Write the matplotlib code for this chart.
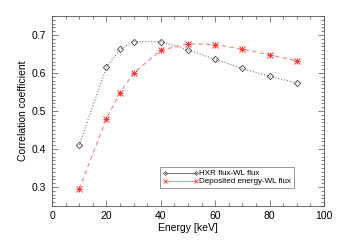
import matplotlib
matplotlib.use("Agg")
import matplotlib.pyplot as plt
from matplotlib.ticker import MultipleLocator
from matplotlib.legend_handler import HandlerLine2D
from matplotlib.lines import Line2D

energy = [10, 20, 25, 30, 40, 50, 60, 70, 80, 90]
hxr_wl = [0.410, 0.615, 0.662, 0.683, 0.682, 0.661, 0.636, 0.612, 0.591, 0.574]
dep_wl = [0.295, 0.480, 0.548, 0.600, 0.660, 0.677, 0.675, 0.663, 0.648, 0.632]
labels = ["HXR flux-WL flux", "Deposited energy-WL flux"]

plt.rcParams['font.family'] = ['Liberation Sans', 'DejaVu Sans']
fig = plt.figure(figsize=(3.4, 2.4), dpi=100)
ax = fig.add_axes([0.153, 0.142, 0.8, 0.791])

ax.plot(energy, hxr_wl, linestyle=':', color='#777777', lw=0.8,
        marker='D', ms=3.2, mfc='none', mec='#444444', mew=0.6)
ax.plot(energy, dep_wl, linestyle=(0, (4, 3)), color='#ff8080', lw=0.8,
        marker='x', ms=4, mec='#ff3030', mew=0.7)
ax.plot(energy, dep_wl, linestyle='none',
        marker='+', ms=5, mec='#ff3030', mew=0.7)

ax.set_xlim(0, 100)
ax.set_ylim(0.25, 0.75)
ax.xaxis.set_major_locator(MultipleLocator(20))
ax.xaxis.set_minor_locator(MultipleLocator(5))
ax.yaxis.set_major_locator(MultipleLocator(0.1))
ax.yaxis.set_minor_locator(MultipleLocator(0.01))
ax.tick_params(which='both', direction='in', top=True, right=True,
               labelsize=7.5, color='#555555', width=0.5)
ax.tick_params(which='major', length=4, pad=4)
ax.tick_params(which='minor', length=2)
for s in ax.spines.values():
    s.set_linewidth(0.6)
    s.set_color('#555555')

ax.set_xlabel("Energy [keV]", fontsize=7.5, labelpad=1)
ax.set_ylabel("Correlation coefficient", fontsize=7.5, labelpad=3)

h1 = Line2D([], [], color='#555555', lw=0.6, marker='D', ms=2, mfc='none', mec='#444444', mew=0.5)
h2 = Line2D([], [], color='#ff8080', lw=0.6, marker='x', ms=2.5, mec='#ff3030', mew=0.6)
leg = ax.legend([h1, h2], labels, loc='lower left', bbox_to_anchor=(0.397, 0.095),
                fontsize=5.8, frameon=True, fancybox=False, borderpad=0.3,
                handlelength=4.5, handletextpad=0.1, labelspacing=0.05,
                numpoints=2, borderaxespad=0)
leg.get_frame().set_edgecolor('#666666')
leg.get_frame().set_linewidth(0.6)

fig.savefig("out.png", dpi=100)
